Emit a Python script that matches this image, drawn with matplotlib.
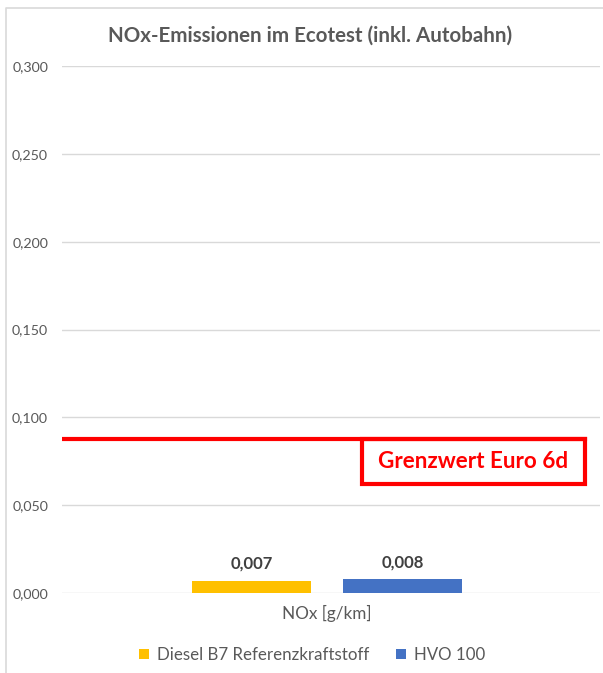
import matplotlib.pyplot as plt
from matplotlib.patches import Rectangle
from matplotlib.lines import Line2D
from matplotlib.ticker import FuncFormatter
import matplotlib.transforms as mtransforms

plt.rcParams['font.family'] = ['Lato', 'DejaVu Sans']

# NOx values in g/km
series = ['Diesel B7 Referenzkraftstoff', 'HVO 100']
values = [0.007, 0.008]
colors = ['#FFC000', '#4472C4']
category = 'NOx [g/km]'
limit_value = 0.0875
limit_label = 'Grenzwert Euro 6d'
yticks = [0.0, 0.05, 0.10, 0.15, 0.20, 0.25, 0.30]

W, H = 603, 673
fig = plt.figure(figsize=(W / 100, H / 100), dpi=100)

# chart frame, only top and left edges visible
fig.lines.append(Line2D([5.5 / W, 5.5 / W, 1], [0, 1 - 7.5 / H, 1 - 7.5 / H],
                        transform=fig.transFigure, color='#D9D9D9', linewidth=1.2))

ax = fig.add_axes([62 / W, 1 - 593 / H, 538 / W, (593 - 66) / H])
ax.set_xlim(0, 1)
ax.set_ylim(0, 0.300)

bar_w = 0.221
gap = 0.06
center = 0.4925
offsets = [-(bar_w + gap) / 2, (bar_w + gap) / 2]
for off, v, c, name in zip(offsets, values, colors, series):
    ax.bar(center + off, v, width=bar_w, color=c, label=name, zorder=3)
    ax.text(center + off, v + 0.005, f'{v:.3f}'.replace('.', ','), ha='center', va='bottom',
            fontsize=12, fontweight='bold', color='#404040')

ax.set_yticks(yticks)
ax.yaxis.set_major_formatter(FuncFormatter(lambda y, p: f'{y:.3f}'.replace('.', ',')))
ax.tick_params(axis='y', length=0, pad=10, labelsize=10.3, labelcolor='#595959')
ax.set_xticks([])
ax.grid(axis='y', color='#D9D9D9', linewidth=1)
for s in ax.spines.values():
    s.set_visible(False)

# limit line with labelled box
xr = 523 / 538
ax.axhline(limit_value, xmin=0, xmax=xr, color='#FF0000', linewidth=3, zorder=4)
trans = mtransforms.blended_transform_factory(ax.transAxes, ax.transData)
box_bottom = 0.0619
bx0 = 300 / 538
ax.add_patch(Rectangle((bx0, box_bottom), xr - bx0, limit_value - box_bottom, transform=trans,
                       fill=False, edgecolor='#FF0000', linewidth=3, zorder=4))
ax.text((bx0 + xr) / 2, (limit_value + box_bottom) / 2, limit_label, transform=trans,
        ha='center', va='center', fontsize=16.2, fontweight='bold', color='#FF0000')

fig.text(310 / W, 1 - 36 / H, 'NOx-Emissionen im Ecotest (inkl. Autobahn)', ha='center', va='center',
         fontsize=14.8, fontweight='bold', color='#595959')
fig.text(327 / W, 1 - 613 / H, category, ha='center', va='center', fontsize=12.3, color='#595959')

leg = fig.legend(loc='center', bbox_to_anchor=(312 / W, 1 - 655 / H), ncol=2, frameon=False,
                 fontsize=12.2, handlelength=0.6, handleheight=0.6, handletextpad=0.45,
                 columnspacing=1.6)
for t in leg.get_texts():
    t.set_color('#595959')

fig.savefig('out.png', dpi=100)
